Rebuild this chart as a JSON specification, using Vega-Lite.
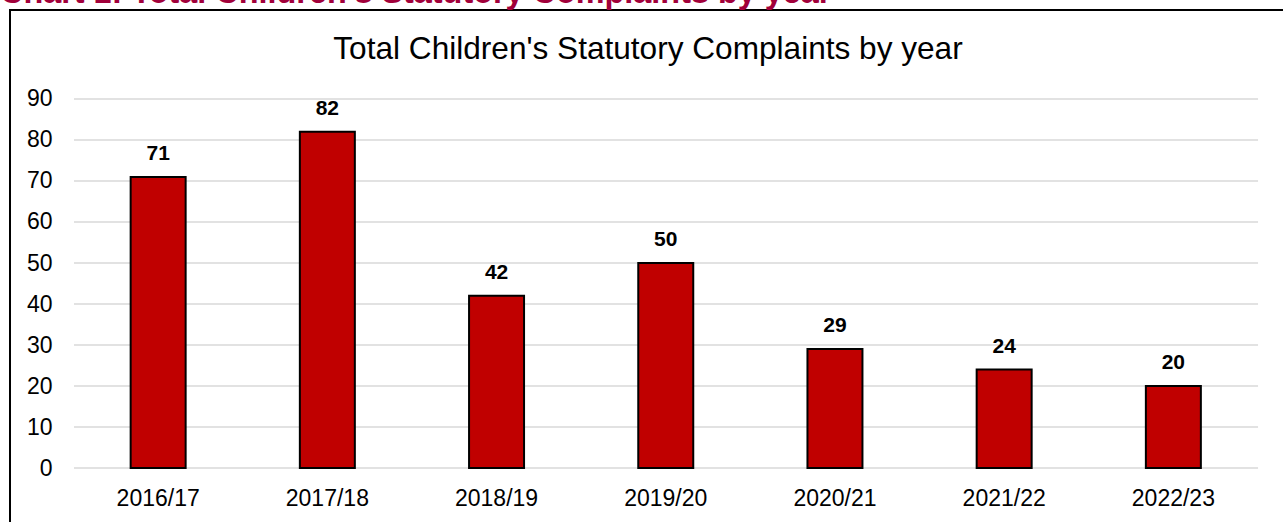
{
  "$schema": "https://vega.github.io/schema/vega-lite/v6.json",
  "width": 1283,
  "height": 522,
  "autosize": {"type": "none"},
  "padding": {"left": 10, "top": 10, "right": -10, "bottom": -10},
  "background": "white",
  "config": {
    "view": {"stroke": "black", "strokeWidth": 2},
    "font": "Liberation Sans"
  },
  "title": {
    "text": "Chart 1: Total Children's Statutory Complaints by year",
    "anchor": "start",
    "frame": "group",
    "offset": -25,
    "baseline": "alphabetic",
    "fontSize": 32.4,
    "fontWeight": "bold",
    "color": "#A1003A",
    "font": "Liberation Sans",
    "dx": -10
  },
  "datasets": {
    "complaints": [
      {"year": "2016/17", "count": 71},
      {"year": "2017/18", "count": 82},
      {"year": "2018/19", "count": 42},
      {"year": "2019/20", "count": 50},
      {"year": "2020/21", "count": 29},
      {"year": "2021/22", "count": 24},
      {"year": "2022/23", "count": 20}
    ],
    "gridlines": [
      {"count": 0}, {"count": 10}, {"count": 20}, {"count": 30}, {"count": 40},
      {"count": 50}, {"count": 60}, {"count": 70}, {"count": 80}, {"count": 90}
    ]
  },
  "layer": [
    {
      "data": {"name": "gridlines"},
      "mark": {"type": "rule", "color": "#d9d9d9", "strokeWidth": 1.5},
      "encoding": {
        "x": {
          "datum": "2016/17", "type": "nominal", "bandPosition": -1.03,
          "scale": {"domain": ["2016/17","2017/18","2018/19","2019/20","2020/21","2021/22","2022/23"], "paddingInner": 0.675, "paddingOuter": 0.6288, "align": 0.567},
          "axis": {"title": null, "domain": false, "ticks": false, "grid": false, "labelPadding": 0, "offset": -45, "labelFontSize": 23, "labelColor": "black", "labelAngle": 0, "labelFont": "Liberation Sans"}
        },
        "x2": {"datum": "2022/23", "bandPosition": 2.04},
        "y": {
          "field": "count", "type": "quantitative",
          "scale": {"domain": [-15.6, 111.7], "nice": false},
          "axis": {"title": "Total Children's Statutory Complaints by year", "values": [0,10,20,30,40,50,60,70,80,90], "grid": false, "domain": false, "ticks": false, "labelPadding": 0, "offset": -42, "labelFontSize": 23, "labelColor": "black", "labelFont": "Liberation Sans", "labelBaseline": "middle", "titleFontSize": 31.6, "titleFontWeight": "normal", "titleColor": "black", "titleFont": "Liberation Sans", "titleAngle": 0, "titleAlign": "center", "titleBaseline": "alphabetic", "titleX": 595.5, "titleY": 48.5}
        }
      }
    },
    {
      "data": {"name": "complaints"},
      "mark": {"type": "bar", "color": "#C00000", "stroke": "black", "strokeWidth": 2},
      "encoding": {
        "x": {"field": "year", "type": "nominal", "sort": null},
        "y": {"field": "count", "type": "quantitative"}
      }
    },
    {
      "data": {"name": "complaints"},
      "mark": {"type": "text", "baseline": "alphabetic", "dy": -17, "fontSize": 21, "fontWeight": "bold", "color": "black", "font": "Liberation Sans"},
      "encoding": {
        "x": {"field": "year", "type": "nominal", "sort": null},
        "y": {"field": "count", "type": "quantitative"},
        "text": {"field": "count", "type": "quantitative"}
      }
    }
  ]
}
